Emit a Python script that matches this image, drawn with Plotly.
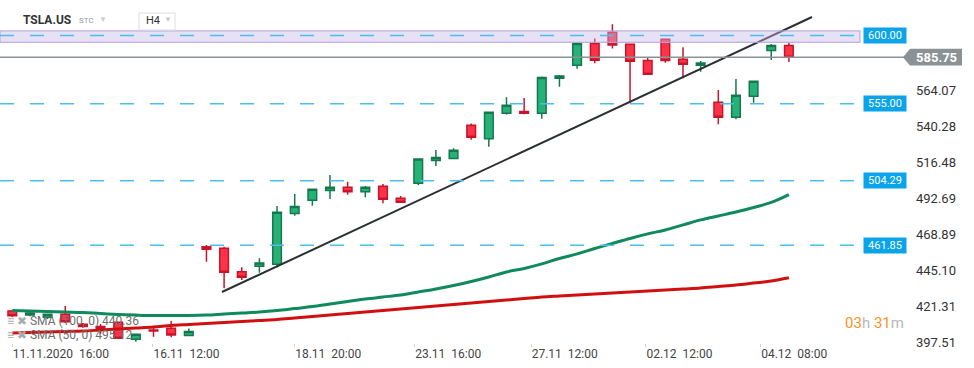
import plotly.graph_objects as go

# ---------------- data ----------------
candle_idx = list(range(45))
opens = [418.5, 415.8, 414.3, 416.3, 409.7, 408.2, 411.1, 399.9, 405.9, 407.1, 402.3,
         460.9, 459.8, 444.4, 448.0, 449.3, 482.8, 491.4, 497.8, 500.0, 497.1, 500.6,
         492.7, 502.6, 517.7, 518.9, 540.8, 532.0, 548.7, 550.0, 548.7, 571.8, 580.4,
         594.8, 602.1, 594.2, 583.6, 597.5, 584.3, 580.4, 556.0, 546.1, 559.9, 590.2, 593.5]
highs = [419.2, 418.0, 416.8, 421.8, 410.5, 410.0, 411.5, 403.5, 407.5, 411.9, 407.0,
         462.0, 460.9, 447.3, 453.2, 487.6, 495.6, 499.0, 508.1, 503.7, 500.9, 502.2,
         494.2, 519.0, 524.5, 525.7, 542.1, 549.8, 559.3, 558.8, 573.0, 574.0, 595.5,
         598.1, 607.5, 594.5, 585.4, 598.0, 592.2, 583.2, 564.1, 571.3, 570.0, 594.4, 595.0]
lows = [414.5, 415.0, 413.2, 410.5, 407.5, 403.5, 400.0, 398.3, 401.6, 401.2, 402.0,
        450.9, 433.4, 438.9, 443.7, 447.3, 481.3, 487.8, 492.3, 495.1, 493.4, 489.5,
        489.8, 501.5, 514.0, 518.5, 531.3, 526.7, 548.0, 548.1, 545.2, 566.2, 578.1,
        581.7, 591.5, 555.3, 574.0, 582.1, 571.8, 576.1, 541.5, 544.8, 555.7, 583.8, 582.5]
closes = [415.4, 417.2, 416.3, 411.4, 408.2, 407.1, 400.6, 403.2, 405.3, 402.7, 404.9,
          459.1, 444.0, 440.7, 450.1, 483.5, 487.4, 498.7, 500.0, 497.1, 500.0, 492.1,
          490.1, 518.6, 519.7, 524.4, 532.9, 549.4, 554.0, 548.7, 572.4, 573.3, 594.8,
          583.7, 593.7, 583.0, 574.4, 583.6, 581.0, 581.9, 546.1, 560.6, 569.8, 593.5, 585.75]

sma50 = [418.8, 418.5, 418.1, 417.8, 417.5, 416.8, 416.2, 415.8, 415.5, 415.5, 415.5,
         415.8, 416.5, 417.1, 417.8, 418.8, 420.1, 421.4, 423.1, 424.7, 426.4, 427.7,
         429.0, 431.0, 433.0, 435.3, 437.9, 440.9, 444.2, 446.5, 449.5, 453.1, 456.1,
         459.7, 463.0, 466.3, 469.3, 471.9, 475.2, 478.5, 481.1, 483.7, 486.7, 490.0, 495.12]
sma100 = [403.98, 404.31, 404.64, 404.97, 405.30, 405.96, 406.62, 407.28, 407.93, 408.92,
          409.58, 410.24, 410.90, 411.56, 412.22, 412.87, 413.86, 414.85, 415.84, 416.83,
          417.82, 418.80, 419.79, 420.78, 421.77, 422.76, 423.75, 424.73, 425.72, 426.71,
          427.70, 428.36, 429.02, 429.67, 430.33, 430.99, 431.65, 432.31, 432.97, 433.63,
          434.62, 435.60, 436.92, 438.24, 440.36]

y_tick_vals = [397.51, 421.31, 445.10, 468.89, 492.69, 516.48, 540.28, 564.07]
x_tick_pos = [0.0, 7.97, 16.0, 22.8, 29.4, 35.9, 42.4]
x_tick_text = ["11.11.2020\u00a0 16:00", "16.11\u00a0 12:00", "18.11\u00a0 20:00",
               "23.11\u00a0 16:00", "27.11\u00a0 12:00", "02.12\u00a0 12:00", "04.12\u00a0 08:00"]

level_lines = [600.00, 555.00, 504.29, 461.85]
last_price = 585.75
zone_low, zone_high = 595.5, 603.0
trend_start = (11.88, 431.0)
trend_end = (45.31, 612.2)

sma_labels = ["SMA (100, 0) 440.36", "SMA (50, 0) 495.12"]

# ---------------- layout helpers ----------------
W, H = 974, 368
ML, MR, MT, MB = 0, 114, 0, 25
PW = W - ML - MR
PH = H - MT - MB


def px(xp):
    return (xp - ML) / PW


def py(yp):
    return 1 - (yp - MT) / PH


FONT = "Roboto, Open Sans, sans-serif"
GREEN_FILL, GREEN_LINE = "#26b277", "#14784e"
RED_FILL, RED_LINE = "#ff3347", "#c8142b"
BLUE = "#0aa4eb"
DASH_BLUE = "#4dbdf0"

fig = go.Figure()

fig.add_trace(go.Scatter(x=candle_idx, y=sma100, mode="lines",
                         line=dict(color="#d0100f", width=3, shape="spline"),
                         hoverinfo="skip", showlegend=False))
fig.add_trace(go.Scatter(x=candle_idx, y=sma50, mode="lines",
                         line=dict(color="#0e8a5c", width=3, shape="spline"),
                         hoverinfo="skip", showlegend=False))

fig.add_trace(go.Candlestick(
    x=candle_idx, open=opens, high=highs, low=lows, close=closes,
    increasing=dict(fillcolor=GREEN_FILL, line=dict(color=GREEN_LINE, width=1.5)),
    decreasing=dict(fillcolor=RED_FILL, line=dict(color=RED_LINE, width=1.5)),
    whiskerwidth=0, showlegend=False))

shapes = []
# trend line
shapes.append(dict(type="line", xref="x", yref="y",
                   x0=trend_start[0], y0=trend_start[1], x1=trend_end[0], y1=trend_end[1],
                   line=dict(color="#2b2f34", width=2), layer="above"))
# purple zone
shapes.append(dict(type="rect", xref="paper", yref="y", x0=0, x1=1,
                   y0=zone_low, y1=zone_high,
                   fillcolor="rgba(196,184,232,0.42)",
                   line=dict(color="rgba(180,165,225,0.85)", width=1.2), layer="above"))
# dashed level lines
for lv in level_lines:
    shapes.append(dict(type="line", xref="paper", yref="y", x0=0, x1=px(863),
                       y0=lv, y1=lv, line=dict(color=DASH_BLUE, width=1.5, dash="14px,16px"),
                       layer="above"))
# last price line
shapes.append(dict(type="line", xref="paper", yref="y", x0=0, x1=px(904),
                   y0=last_price, y1=last_price, line=dict(color="#8a9296", width=1.5),
                   layer="above"))
# last price arrow label background
u = 0.6588  # price units per pixel
t, b = last_price + 8.4 * u, last_price - 8.4 * u
shapes.append(dict(type="path", xref="paper", yref="y",
                   path=f"M {px(903)},{last_price} L {px(910)},{t} L {px(962)},{t} "
                        f"L {px(962)},{b} L {px(910)},{b} Z",
                   fillcolor="#8a9296", line=dict(width=0), layer="above"))
# H4 box
shapes.append(dict(type="rect", xref="paper", yref="paper", x0=px(139), x1=px(175),
                   y0=py(30), y1=py(13), line=dict(color="#dedede", width=1),
                   fillcolor="white", layer="above"))

annotations = []
for lv in level_lines:
    annotations.append(dict(xref="paper", yref="y", x=px(863), y=lv, xanchor="left",
                            yanchor="middle", text=f"{lv:.2f}", showarrow=False,
                            bgcolor=BLUE, font=dict(family=FONT, size=11, color="white"),
                            width=40, height=13, borderpad=1))
annotations.append(dict(xref="paper", yref="y", x=px(936), y=last_price, xanchor="center",
                        yanchor="middle", text=f"<b>{last_price:.2f}</b>", showarrow=False,
                        font=dict(family=FONT, size=13, color="white")))
# header
annotations.append(dict(xref="paper", yref="paper", x=px(21), y=py(20), xanchor="left",
                        yanchor="middle", text="<b>TSLA.US</b>", showarrow=False,
                        font=dict(family=FONT, size=12, color="#333333")))
annotations.append(dict(xref="paper", yref="paper", x=px(77), y=py(21), xanchor="left",
                        yanchor="middle", text="STC", showarrow=False,
                        font=dict(family=FONT, size=8, color="#9a9a9a")))
annotations.append(dict(xref="paper", yref="paper", x=px(97), y=py(20), xanchor="left",
                        yanchor="middle", text="▼", showarrow=False,
                        font=dict(family=FONT, size=8, color="#cccccc")))
annotations.append(dict(xref="paper", yref="paper", x=px(144), y=py(21), xanchor="left",
                        yanchor="middle", text="H4", showarrow=False,
                        font=dict(family=FONT, size=11, color="#333333")))
annotations.append(dict(xref="paper", yref="paper", x=px(162), y=py(20), xanchor="left",
                        yanchor="middle", text="▼", showarrow=False,
                        font=dict(family=FONT, size=8, color="#cccccc")))
# SMA legend
for i, lab in enumerate(sma_labels):
    annotations.append(dict(xref="paper", yref="paper", x=px(5), y=py(321 + 14 * i),
                            xanchor="left", yanchor="middle",
                            text=f"<span style='color:#aaaaaa'>≡ ✖</span> {lab}",
                            showarrow=False, font=dict(family=FONT, size=12, color="#6e6e6e")))
# countdown
annotations.append(dict(xref="paper", yref="paper", x=px(906), y=py(323), xanchor="right",
                        yanchor="middle", showarrow=False,
                        text="<span style='color:#f7941d'>03</span><span style='color:#b9b9b9'>h</span> "
                             "<span style='color:#f7941d'>31</span><span style='color:#b9b9b9'>m</span>",
                        font=dict(family=FONT, size=15)))

fig.update_layout(
    width=W, height=H, margin=dict(l=ML, r=MR, t=MT, b=MB),
    paper_bgcolor="white", plot_bgcolor="white",
    shapes=shapes, annotations=annotations, showlegend=False,
    boxgap=0.3, hovermode=False,
    xaxis=dict(range=[-12.3 / 17.65, (860 - 12.3) / 17.65], rangeslider=dict(visible=False),
               showgrid=False, zeroline=False, showline=False,
               tickvals=x_tick_pos, ticktext=x_tick_text, ticks="outside", ticklen=3,
               tickcolor="#d0d0d0", ticklabelposition="outside right",
               tickfont=dict(family=FONT, size=12, color="#444444"), automargin=False),
    yaxis=dict(side="right", range=[397.4, 623.4], showgrid=False, zeroline=False,
               showline=False, tickvals=y_tick_vals,
               ticktext=[f"{v:.2f}" for v in y_tick_vals], ticks="",
               ticklabelstandoff=55,
               tickfont=dict(family=FONT, size=13, color="#333333"), automargin=False),
)

fig.write_html("out.html", config={"displayModeBar": False},
               post_script="document.body.style.margin='0';document.body.style.overflow='hidden';")
